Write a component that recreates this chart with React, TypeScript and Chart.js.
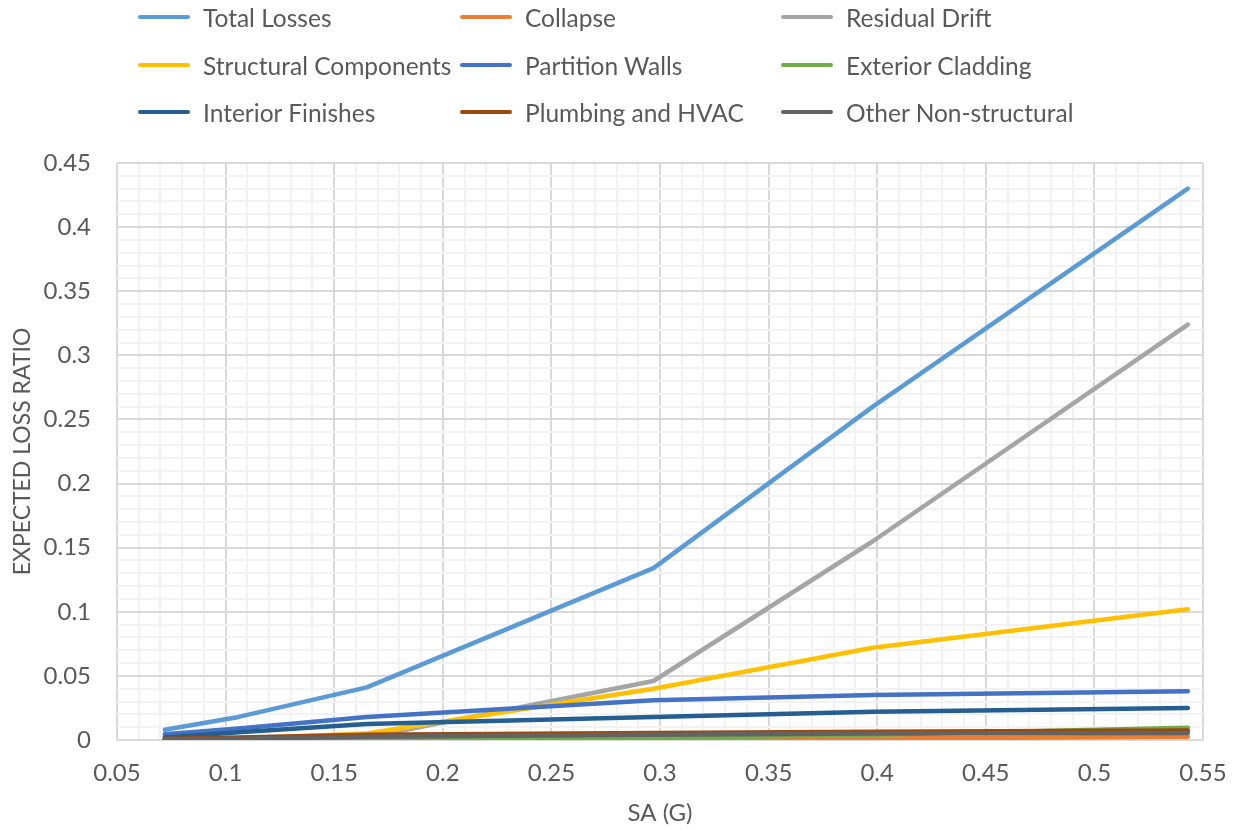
import React, { useEffect, useRef } from "react";
import { Chart, registerables } from "chart.js";

Chart.register(...registerables);

const saValues = [0.072, 0.106, 0.165, 0.297, 0.398, 0.543];

const seriesNames = [
  "Total Losses",
  "Collapse",
  "Residual Drift",
  "Structural Components",
  "Partition Walls",
  "Exterior Cladding",
  "Interior Finishes",
  "Plumbing and HVAC",
  "Other Non-structural",
];

const seriesColors = [
  "#5B9BD5",
  "#ED7D31",
  "#A5A5A5",
  "#FFC000",
  "#4472C4",
  "#70AD47",
  "#255E91",
  "#9E480E",
  "#636363",
];

const totalLosses = [0.008, 0.018, 0.041, 0.134, 0.26, 0.43];
const collapse = [0.0, 0.0, 0.0001, 0.0005, 0.0012, 0.0025];
const residualDrift = [0.0, 0.0, 0.002, 0.046, 0.155, 0.324];
const structuralComponents = [0.0005, 0.001, 0.005, 0.04, 0.072, 0.102];
const partitionWalls = [0.0045, 0.009, 0.018, 0.031, 0.035, 0.038];
const exteriorCladding = [0.0, 0.0001, 0.0003, 0.0015, 0.004, 0.0095];
const interiorFinishes = [0.002, 0.006, 0.0125, 0.018, 0.022, 0.025];
const plumbingHVAC = [0.001, 0.002, 0.004, 0.0055, 0.0065, 0.0075];
const otherNonStructural = [0.0005, 0.001, 0.0025, 0.004, 0.005, 0.0055];

const seriesValues = [
  totalLosses,
  collapse,
  residualDrift,
  structuralComponents,
  partitionWalls,
  exteriorCladding,
  interiorFinishes,
  plumbingHVAC,
  otherNonStructural,
];

const xTickMin = 0.05;
const xTickMax = 0.55;
const yTickMin = 0;
const yTickMax = 0.45;

const FONT = "Lato, 'Open Sans', sans-serif";
const TEXT = "#595959";

const isMajor = (v: number) => Math.round(v * 100) % 5 === 0;
const fmt = (v: number) => String(parseFloat(Number(v).toFixed(2)));

export default function App() {
  const ref = useRef<HTMLCanvasElement | null>(null);

  useEffect(() => {
    if (!ref.current) return;
    const datasets = seriesNames.map((name, i) => ({
      label: name,
      data: saValues.map((x, j) => ({ x, y: seriesValues[i][j] })),
      borderColor: seriesColors[i],
      backgroundColor: seriesColors[i],
      borderWidth: 4.5,
      pointRadius: 0,
      borderCapStyle: "round" as const,
      borderJoinStyle: "round" as const,
      tension: 0,
      fill: false,
      order: seriesNames.length - i,
    }));
    const gridColor = (ctx: any) =>
      ctx.tick && isMajor(ctx.tick.value) ? "#D9D9D9" : "#F2F2F2";
    const chart = new Chart(ref.current, {
      type: "line",
      data: { datasets },
      options: {
        animation: false,
        responsive: false,
        layout: { padding: { top: 163, right: 35, left: 0, bottom: 0 } },
        plugins: { legend: { display: false }, tooltip: { enabled: false } },
        scales: {
          x: {
            type: "linear",
            min: xTickMin,
            max: xTickMax,
            border: { display: false },
            grid: { color: gridColor, lineWidth: 2, drawTicks: false },
            ticks: {
              stepSize: 0.01,
              maxTicksLimit: 1000,
              autoSkip: false,
              maxRotation: 0,
              padding: 19,
              color: TEXT,
              font: { family: FONT, size: 24 },
              callback: (v: any) => (isMajor(Number(v)) ? fmt(Number(v)) : ""),
            },
            title: {
              display: true,
              text: "SA (G)",
              color: TEXT,
              font: { family: FONT, size: 24 },
              padding: { top: 0, bottom: 2 },
            },
            afterFit: (s: any) => {
              s.height = 90;
              s.paddingLeft = 0;
              s.paddingRight = 0;
            },
          },
          y: {
            type: "linear",
            min: yTickMin,
            max: yTickMax,
            border: { display: false },
            grid: { color: gridColor, lineWidth: 2, drawTicks: false },
            ticks: {
              stepSize: 0.01,
              maxTicksLimit: 1000,
              autoSkip: false,
              padding: 26,
              color: TEXT,
              font: { family: FONT, size: 24 },
              callback: (v: any) => (isMajor(Number(v)) ? fmt(Number(v)) : ""),
            },
            title: {
              display: true,
              text: "EXPECTED LOSS RATIO",
              color: TEXT,
              font: { family: FONT, size: 23 },
              padding: { top: 9, bottom: 0 },
            },
            afterFit: (s: any) => {
              s.width = 117;
              s.paddingTop = 0;
              s.paddingBottom = 0;
            },
          },
        },
      },
    });
    return () => chart.destroy();
  }, []);

  const legendCols = [138, 460, 781];
  const legendRows = [17, 65, 112];

  return (
    <div
      style={{
        position: "fixed",
        left: 0,
        top: 0,
        width: 1238,
        height: 830,
        background: "#fff",
        fontFamily: FONT,
      }}
    >
      <canvas ref={ref} width={1238} height={830} style={{ position: "absolute", left: 0, top: 0 }} />
      {seriesNames.map((name, i) => {
        const left = legendCols[i % 3];
        const top = legendRows[Math.floor(i / 3)];
        return (
          <div key={name} style={{ position: "absolute", left, top: top - 15, height: 30, display: "flex", alignItems: "center" }}>
            <div style={{ width: 52, height: 4.5, borderRadius: 2.25, background: seriesColors[i] }} />
            <span style={{ marginLeft: 13, fontSize: 24.5, color: TEXT, whiteSpace: "nowrap" }}>{name}</span>
          </div>
        );
      })}
    </div>
  );
}
